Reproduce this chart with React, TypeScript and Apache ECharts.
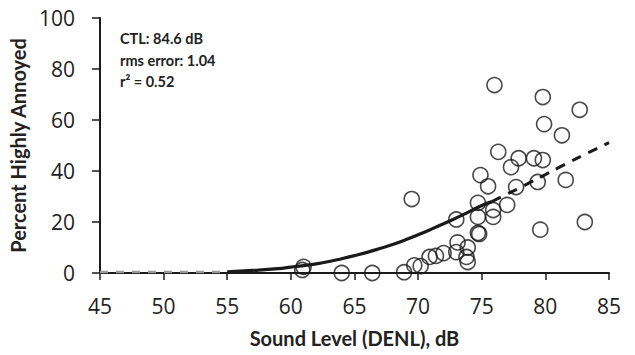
import React, { useEffect, useRef } from "react";
import * as echarts from "echarts";

const soundLevel = [
  60.9, 61.0, 64.0, 66.4, 68.9, 69.7, 70.2, 69.5, 70.9, 71.4, 72.0, 73.0, 73.1, 73.0,
  73.9, 73.8, 73.9, 74.7, 74.7, 74.7, 74.8, 74.9, 75.5, 75.9, 75.9, 76.0, 76.3, 77.0,
  77.3, 77.7, 77.9, 79.1, 79.4, 79.6, 79.8, 79.8, 79.9, 81.3, 81.6, 82.7, 83.1,
];
const percentHA = [
  1.2, 2.4, 0, 0, 0.3, 3, 2.7, 29, 6.3, 6.7, 7.8, 8.2, 12, 21,
  10, 6.3, 4.3, 27.5, 22, 15.7, 15.3, 38.4, 34, 24.7, 22, 73.7, 47.5, 26.7,
  41.5, 33.7, 45, 45, 35.7, 17, 69, 44.3, 58.4, 54, 36.5, 64, 20,
];

// fitted curve
const fitSolidX = [55, 57, 59, 60, 61, 62, 63, 64, 65, 66, 67, 68, 69, 70, 71, 72, 73, 74, 75, 75.8];
const fitSolidY = [0.5, 1.0, 1.7, 2.3, 2.9, 3.6, 4.5, 5.6, 6.8, 8.1, 9.6, 11.2, 13.0, 15.0, 17.1, 19.3, 21.6, 24.0, 26.5, 28.0];
const fitDashX = [75.8, 77, 78, 79, 80, 81, 82, 83, 84, 85];
const fitDashY = [28.0, 31.0, 33.4, 36.0, 38.6, 41.2, 43.8, 46.3, 48.7, 51.1];
const lowDashX = [45, 55];
const lowDashY = [0.4, 0.4];

const xTicks = { min: 45, max: 85, interval: 5 };
const yTicks = { min: 0, max: 100, interval: 20 };

const annotationLines = ["CTL: 84.6 dB", "rms error: 1.04", "r² = 0.52"];

const FONT = "Lato, 'Open Sans', sans-serif";
const TICK_FONT = "'Open Sans', sans-serif";

export default function App() {
  const ref = useRef<HTMLDivElement>(null);
  useEffect(() => {
    if (!ref.current) return;
    const chart = echarts.init(ref.current, undefined, { renderer: "svg" });
    const zip = (xs: number[], ys: number[]) => xs.map((x, i) => [x, ys[i]]);
    chart.setOption({
      animation: false,
      grid: { left: 97, right: 26, top: 18, bottom: 82, containLabel: false },
      xAxis: {
        type: "value",
        min: xTicks.min,
        max: xTicks.max,
        interval: xTicks.interval,
        name: "Sound Level (DENL), dB",
        nameLocation: "middle",
        nameGap: 55,
        nameTextStyle: { fontFamily: FONT, fontWeight: "bold", fontSize: 20, color: "#222" },
        axisLine: { onZero: false, lineStyle: { color: "#1a1a1a", width: 2 } },
        axisTick: { show: true, length: 7, lineStyle: { color: "#1a1a1a", width: 1.5 } },
        axisLabel: { fontFamily: TICK_FONT, fontSize: 21, color: "#222", margin: 22 },
        splitLine: { show: false },
      },
      yAxis: {
        type: "value",
        min: yTicks.min,
        max: yTicks.max,
        interval: yTicks.interval,
        name: "Percent Highly Annoyed",
        nameLocation: "middle",
        nameGap: 66,
        nameTextStyle: { fontFamily: FONT, fontWeight: "bold", fontSize: 20, color: "#222" },
        axisLine: { show: true, lineStyle: { color: "#1a1a1a", width: 2 } },
        axisTick: { show: true, length: 8, lineStyle: { color: "#1a1a1a", width: 1.5 } },
        axisLabel: { fontFamily: TICK_FONT, fontSize: 21, color: "#222", margin: 25 },
        splitLine: { show: false },
      },
      graphic: [
        {
          type: "text",
          left: 120,
          top: 28,
          style: {
            text: annotationLines.join("\n"),
            fontFamily: FONT,
            fontWeight: "bold",
            fontSize: 14.5,
            lineHeight: 21.5,
            fill: "#222",
          },
        },
      ],
      series: [
        {
          type: "line",
          data: zip(lowDashX, lowDashY),
          symbol: "none",
          lineStyle: { color: "#999", width: 2.5, type: [8, 8] },
          z: 3,
        },
        {
          type: "line",
          data: zip(fitSolidX, fitSolidY),
          symbol: "none",
          smooth: true,
          lineStyle: { color: "#1a1a1a", width: 3.2 },
          z: 3,
        },
        {
          type: "line",
          data: zip(fitDashX, fitDashY),
          symbol: "none",
          smooth: true,
          lineStyle: { color: "#1a1a1a", width: 3, type: [10, 8] },
          z: 3,
        },
        {
          type: "scatter",
          data: zip(soundLevel, percentHA),
          symbol: "circle",
          symbolSize: 15,
          clip: false,
          itemStyle: { color: "rgba(255,255,255,0)", borderColor: "#1a1a1a", borderWidth: 1.6 },
          z: 4,
        },
      ],
    });
    return () => chart.dispose();
  }, []);
  return <div ref={ref} style={{ width: 635, height: 355, position: "absolute", left: 0, top: 0 }} />;
}
